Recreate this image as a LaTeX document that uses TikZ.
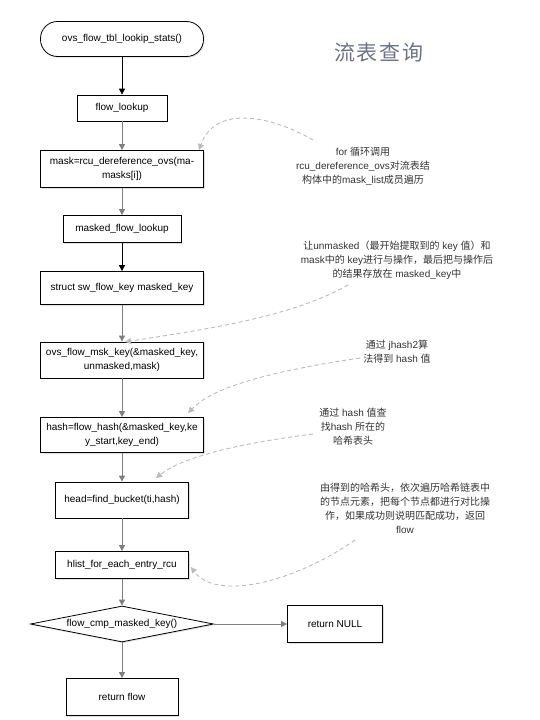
\documentclass[tikz,border=0pt]{standalone}
\usepackage{fontspec}
\setmainfont{Liberation Sans}
\newfontfamily\cjk{Noto Sans CJK SC}
\usetikzlibrary{arrows.meta,shapes.geometric,shadows}
\definecolor{arrgray}{HTML}{7F7F7F}
\definecolor{dashgray}{HTML}{BBBBBB}
\definecolor{notecol}{HTML}{333333}
\definecolor{titlecol}{HTML}{6A7388}
\tikzset{
  base/.style={draw=black, line width=0.8pt, fill=white, inner sep=0pt, align=center,
    font=\fontsize{10}{14}\selectfont,
    drop shadow={shadow xshift=1pt, shadow yshift=-1.2pt, opacity=0.25}},
  stepbox/.style={base, rectangle},
  termbox/.style={base, rectangle, rounded corners=17pt},
  decbox/.style={base, diamond},
  note/.style={align=center, text=notecol, inner sep=0pt, font=\fontsize{10}{14}\selectfont},
  flowarrow/.style={draw=arrgray, line width=1pt, -{Triangle[length=6pt,width=6pt]}},
  blackarrow/.style={draw=black, line width=1pt, -{Triangle[length=6pt,width=6pt]}},
  notearrow/.style={draw=dashgray, line width=0.9pt, dash pattern=on 4pt off 3pt, -{Triangle[length=6pt,width=6pt]}},
}
\begin{document}
\begin{tikzpicture}[x=1pt,y=-1pt]
\useasboundingbox (0,0) rectangle (540,720);
\fill[white] (0,0) rectangle (540,720);

% main flow
\node[termbox, minimum width=163pt, minimum height=35pt] (start) at (122,39) {ovs\_flow\_tbl\_lookip\_stats()};
\node[stepbox, minimum width=90pt, minimum height=26pt] (lookup) at (122,108) {flow\_lookup};
\node[stepbox, minimum width=163pt, minimum height=37pt] (mask) at (122,169) {mask=rcu\_dereference\_ovs(ma-\\masks[i])};
\node[stepbox, minimum width=118pt, minimum height=27pt] (mfl) at (122,229) {masked\_flow\_lookup};
\node[stepbox, minimum width=163pt, minimum height=33pt] (struct) at (122,288) {struct sw\_flow\_key masked\_key};
\node[stepbox, minimum width=163pt, minimum height=36pt] (msk) at (122,360) {ovs\_flow\_msk\_key(\&masked\_key,\\unmasked,mask)};
\node[stepbox, minimum width=163pt, minimum height=35pt] (hash) at (122,435) {hash=flow\_hash(\&masked\_key,ke\\y\_start,key\_end)};
\node[stepbox, minimum width=133pt, minimum height=36pt] (head) at (122,500) {head=find\_bucket(ti,hash)};
\node[stepbox, minimum width=133pt, minimum height=27pt] (hlist) at (122,565) {hlist\_for\_each\_entry\_rcu};
\node[decbox, minimum width=183pt, minimum height=36pt, aspect=5] (cmp) at (122,624) {flow\_cmp\_masked\_key()};
\node[stepbox, minimum width=112pt, minimum height=37pt] (ret) at (122,697) {return flow};
\node[stepbox, minimum width=95pt, minimum height=37pt] (null) at (335,624) {return NULL};

\draw[blackarrow] (start) -- (lookup);
\draw[flowarrow] (lookup) -- (mask);
\draw[flowarrow] (mask) -- (mfl);
\draw[blackarrow] (mfl) -- (struct);
\draw[flowarrow] (struct) -- (msk);
\draw[flowarrow] (msk) -- (hash);
\draw[flowarrow] (hash) -- (head);
\draw[flowarrow] (head) -- (hlist);
\draw[flowarrow] (hlist) -- (cmp);
\draw[flowarrow] (cmp) -- (ret);
\draw[flowarrow] (cmp) -- (null);

% title
\node[text=titlecol, font=\cjk\fontsize{21}{24}\selectfont, inner sep=0pt] (title) at (379,53) {流\hspace{2pt}表\hspace{2pt}查\hspace{2pt}询};

% notes
\node[note] (n1) at (363,166) {for {\cjk 循环调用}\\rcu\_dereference\_ovs{\cjk 对流表结}\\{\cjk 构体中的}mask\_list{\cjk 成员遍历}};
\node[note] (n2) at (397,260) {{\cjk 让}unmasked{\cjk （最开始提取到的} key {\cjk 值）和}\\mask{\cjk 中的} key{\cjk 进行与操作，最后把与操作后}\\{\cjk 的结果存放在} masked\_key{\cjk 中}};
\node[note] (n3) at (397,352) {{\cjk 通过} jhash2{\cjk 算}\\{\cjk 法得到} hash {\cjk 值}};
\node[note] (n4) at (353,427) {{\cjk 通过} hash {\cjk 值查}\\{\cjk 找}hash {\cjk 所在的}\\{\cjk 哈希表头}};
\node[note] (n5) at (405,508) {{\cjk 由得到的哈希头，依次遍历哈希链表中}\\{\cjk 的节点元素，把每个节点都进行对比操}\\{\cjk 作，如果成功则说明匹配成功，返回}\\flow};

% note connector endpoints
\coordinate (s1) at (313,140);
\coordinate (e1) at (199,150);
\coordinate (s2) at (348,285);
\coordinate (e2) at (125,342);
\coordinate (s3) at (360,358);
\coordinate (e3) at (188,413);
\coordinate (s4) at (313,434);
\coordinate (e4) at (156,478);
\coordinate (s5) at (355,540);
\coordinate (e5) at (191,567);

\draw[notearrow] (s1) .. controls (270,115) and (215,105) .. (e1);
\draw[notearrow] (s2) .. controls (290,318) and (200,330) .. (e2);
\draw[notearrow] (s3) .. controls (280,370) and (215,385) .. (e3);
\draw[notearrow] (s4) .. controls (250,442) and (185,455) .. (e4);
\draw[notearrow] (s5) .. controls (290,585) and (215,600) .. (e5);
\end{tikzpicture}
\end{document}
